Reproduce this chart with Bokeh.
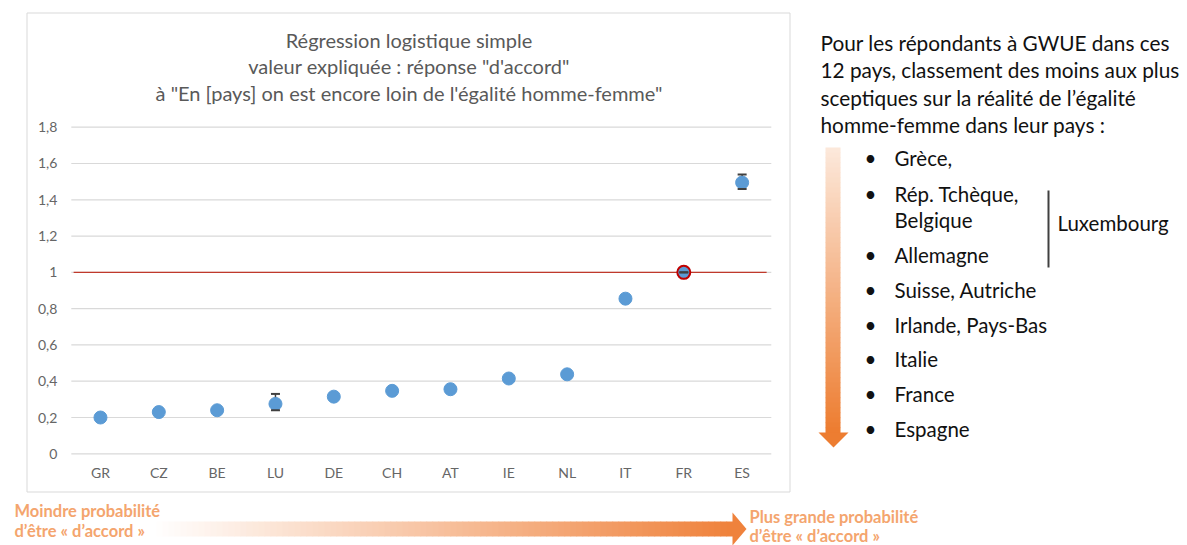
from bokeh.plotting import figure
from bokeh.models import (ColumnDataSource, CoordinateMapping, CategoricalScale, LinearScale,
                          FactorRange, Range1d, FixedTicker, LinearAxis, CategoricalAxis,
                          Label, Scatter, Segment)
from bokeh.embed import file_html
from bokeh.resources import INLINE

# ---------------- data ----------------
countries = ["GR", "CZ", "BE", "LU", "DE", "CH", "AT", "IE", "NL", "IT", "FR", "ES"]
odds = [0.20, 0.23, 0.24, 0.275, 0.315, 0.347, 0.356, 0.415, 0.438, 0.855, 1.0, 1.495]
err_countries = ["LU", "FR", "ES"]
err_low = [0.24, 1.0, 1.46]
err_high = [0.33, 1.0, 1.54]
reference_country = "FR"
reference_value = 1.0
yticks = [0, 0.2, 0.4, 0.6, 0.8, 1.0, 1.2, 1.4, 1.6, 1.8]
ytick_labels = ["0", "0,2", "0,4", "0,6", "0,8", "1", "1,2", "1,4", "1,6", "1,8"]

title_lines = ["Régression logistique simple",
               "valeur expliquée : réponse \"d'accord\"",
               "à \"En [pays] on est encore loin de l'égalité homme-femme\""]
side_intro = ["Pour les répondants à GWUE dans ces",
              "12 pays, classement des moins aux plus",
              "sceptiques sur la réalité de l\u2019égalité",
              "homme-femme dans leur pays :"]
side_items = [(True, "Grèce,"), (True, "Rép. Tchèque,"), (False, "Belgique"),
              (True, "Allemagne"), (True, "Suisse, Autriche"), (True, "Irlande, Pays-Bas"),
              (True, "Italie"), (True, "France"), (True, "Espagne")]
side_note = "Luxembourg"
low_text = ["Moindre probabilité", "d\u2019être « d\u2019accord »"]
high_text = ["Plus grande probabilité", "d\u2019être « d\u2019accord »"]

FONT = "Lato"
BLUE = "#5b9bd5"
ORANGE_TXT = "#f4a56e"
W, H = 1187, 545

# page-pixel canvas (y downwards); the chart is a sub-coordinate system inside it
p = figure(width=W, height=H, x_range=Range1d(0, W), y_range=Range1d(H, 0),
           x_axis_type=None, y_axis_type=None,
           output_backend="svg", toolbar_location=None, min_border=0,
           background_fill_color="white", border_fill_color="white",
           outline_line_color=None)

cm = CoordinateMapping(x_source=FactorRange(factors=countries, range_padding=0),
                       y_source=Range1d(0, 1.8),
                       x_scale=CategoricalScale(), y_scale=LinearScale(),
                       x_target=Range1d(70.8, 770.8), y_target=Range1d(453.3, 126.7))

# chart border
p.quad(left=[26.5], right=[789.5], top=[12.5], bottom=[491.5], fill_color=None,
       line_color="#d9d9d9", line_width=1)

# gridlines (in chart coordinates)
n_cat = len(countries)
grid_src = ColumnDataSource(dict(x0=[0] * len(yticks), x1=[n_cat] * len(yticks),
                                 y=yticks))
p.add_glyph(grid_src, Segment(x0="x0", x1="x1", y0="y", y1="y",
                              line_color="#d9d9d9", line_width=1.2), coordinates=cm)
# reference line
ref_src = ColumnDataSource(dict(x0=[0.04], x1=[n_cat - 0.08], y=[reference_value]))
p.add_glyph(ref_src, Segment(x0="x0", x1="x1", y0="y", y1="y",
                             line_color="#c0392b", line_width=1.3), coordinates=cm)

# axes
tk = FixedTicker(ticks=yticks)
yax = LinearAxis(coordinates=cm, fixed_location=0, ticker=tk,
                 major_label_overrides=dict(zip(yticks, ytick_labels)))
xax = CategoricalAxis(coordinates=cm, fixed_location=0)
for ax in (xax, yax):
    ax.axis_line_color = None
    ax.major_tick_line_color = None
    ax.minor_tick_line_color = None
    ax.major_tick_out = 0
    ax.major_tick_in = 0
    ax.minor_tick_out = 0
    ax.minor_tick_in = 0
    ax.major_label_text_font = FONT
    ax.major_label_text_font_size = "14px"
    ax.major_label_text_color = "#666666"
yax.major_label_standoff = 14
xax.major_label_standoff = 10
p.add_layout(yax, "left")
p.add_layout(xax, "below")

# error bar stems
err_src = ColumnDataSource(dict(c=err_countries, lo=err_low, hi=err_high))
p.add_glyph(err_src, Segment(x0="c", x1="c", y0="lo", y1="hi",
                             line_color="#404040", line_width=1.5), coordinates=cm)
# points
pt_src = ColumnDataSource(dict(c=countries, v=odds))
p.add_glyph(pt_src, Scatter(x="c", y="v", size=13, fill_color=BLUE, line_color=BLUE),
            coordinates=cm)
ri = countries.index(reference_country)
ref_pt = ColumnDataSource(dict(c=[countries[ri]], v=[odds[ri]]))
p.add_glyph(ref_pt, Scatter(x="c", y="v", size=13, fill_color=BLUE,
                            line_color="#c00000", line_width=2), coordinates=cm)
# error bar caps
cap_src = ColumnDataSource(dict(c=err_countries + err_countries, v=err_low + err_high))
p.add_glyph(cap_src, Scatter(x="c", y="v", marker="dash", size=9,
                             line_color="#404040", line_width=2), coordinates=cm)


def lab(x, y, text, size, color, align="left", baseline="middle", style="normal"):
    p.add_layout(Label(x=x, y=y, text=text, text_font=FONT,
                       text_font_size=f"{size}px", text_color=color,
                       text_align=align, text_baseline=baseline,
                       text_font_style=style))


def mix(c0, c1, t):
    return "#%02x%02x%02x" % tuple(int(round(a + (b - a) * t)) for a, b in zip(c0, c1))


# title
for i, line in enumerate(title_lines):
    lab(408.5, 39 + i * 26.7, line, 20, "#595959", align="center")

# right side text
for i, line in enumerate(side_intro):
    lab(820, 41.5 + i * 27.5, line, 20.8, "#111111")
item_y = [157.5, 193.5, 219, 254.5, 289, 324.5, 358.5, 393.5, 428.5]
for (bul, txt), yy in zip(side_items, item_y):
    if bul:
        lab(870, yy, "\u2022", 20.5, "#111111", align="center")
    lab(894, yy, txt, 20.5, "#111111")
lab(1057, 222.5, side_note, 20.5, "#111111")
p.quad(left=[1047], right=[1049], top=[190], bottom=[267], fill_color="#404040",
       line_color=None)

# vertical gradient arrow
top_c, bot_c = (252, 232, 218), (237, 125, 49)
n = 57
y0, y1 = 147.0, 432.0
step = (y1 - y0) / n
p.quad(left=[825] * n, right=[840] * n,
       top=[y0 + i * step for i in range(n)],
       bottom=[y0 + (i + 1) * step + 0.6 for i in range(n)],
       fill_color=[mix(top_c, bot_c, i / (n - 1)) for i in range(n)], line_color=None)
p.patch(x=[818, 848, 833], y=[432, 432, 447], fill_color="#ed7d31", line_color=None)

# bottom gradient arrow
l_c, r_c = (255, 255, 255), (239, 130, 60)
n = 97
x0, x1 = 150.0, 732.0
step = (x1 - x0) / n
p.quad(left=[x0 + i * step for i in range(n)],
       right=[x0 + (i + 1) * step + 0.6 for i in range(n)],
       top=[521] * n, bottom=[536] * n,
       fill_color=[mix(l_c, r_c, i / (n - 1)) for i in range(n)], line_color=None)
p.patch(x=[732, 746, 732], y=[512, 528.5, 545], fill_color="#ef823c", line_color=None)

lab(14, 510, low_text[0], 16.5, ORANGE_TXT, baseline="alphabetic", style="bold")
lab(14, 530, low_text[1], 16.5, ORANGE_TXT, baseline="alphabetic", style="bold")
lab(749, 516, high_text[0], 16.5, ORANGE_TXT, baseline="alphabetic", style="bold")
lab(749, 535, high_text[1], 16.5, ORANGE_TXT, baseline="alphabetic", style="bold")

open("out.html", "w").write(file_html(p, INLINE))
